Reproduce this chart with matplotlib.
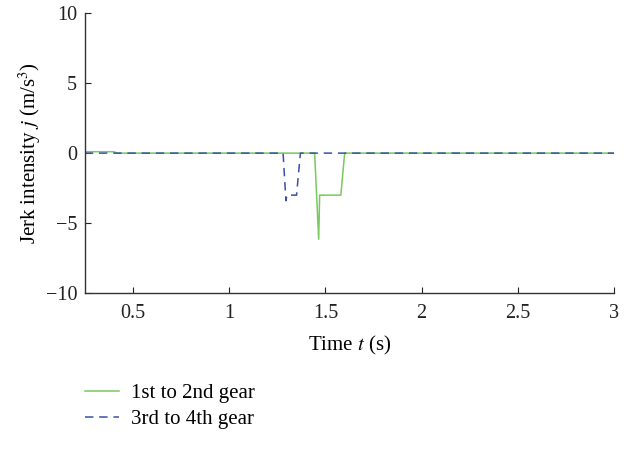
import matplotlib
matplotlib.use('Agg')
import matplotlib.pyplot as plt

plt.rcParams['font.family'] = ['Liberation Serif', 'DejaVu Serif']
plt.rcParams['mathtext.fontset'] = 'stix'

# jerk curves
green_t = [0.25, 0.40, 0.42, 1.444, 1.465, 1.47, 1.58, 1.60, 3.0]
green_j = [0.1, 0.1, 0.0, 0.0, -6.15, -3.0, -3.0, 0.0, 0.0]

blue_t = [0.25, 1.28, 1.295, 1.30, 1.35, 1.37, 3.0]
blue_j = [0.0, 0.0, -3.4, -3.0, -3.0, 0.0, 0.0]

x_ticks = [0.5, 1, 1.5, 2, 2.5, 3]
x_labels = ['0.5', '1', '1.5', '2', '2.5', '3']
y_ticks = [-10, -5, 0, 5, 10]
y_labels = ['\u221210', '\u22125', '0', '5', '10']

fig = plt.figure(figsize=(6.28, 4.51), dpi=100)
ax = fig.add_axes([0.135, 0.350, 0.843, 0.621])

ax.plot(green_t, green_j, color='#79c95c', lw=1.1, label='1st to 2nd gear')
ax.plot(blue_t, blue_j, color='#3a50a8', lw=1.1, ls=(0, (5.5, 3.8)),
        label='3rd to 4th gear')

ax.set_xlim(0.25, 3)
ax.set_ylim(-10, 10)
ax.set_xticks(x_ticks)
ax.set_xticklabels(x_labels)
ax.set_yticks(y_ticks)
ax.set_yticklabels(y_labels)
ax.tick_params(direction='in', length=4, width=0.8, labelsize=14.5,
               colors='#222222')
ax.tick_params(axis='x', pad=7.5)
ax.tick_params(axis='y', pad=5.5)
ax.spines['top'].set_visible(False)
ax.spines['right'].set_visible(False)
for s in ['left', 'bottom']:
    ax.spines[s].set_linewidth(1.0)
    ax.spines[s].set_color('#333333')

ax.set_xlabel('Time $t$ (s)', fontsize=15, labelpad=8)
ax.set_ylabel('Jerk intensity $j$ (m/s$^3$)', fontsize=15, labelpad=1.8)

fig.legend(loc='upper left', bbox_to_anchor=(0.135, 0.150), frameon=False,
           fontsize=15, handlelength=1.65, handletextpad=0.55,
           labelspacing=0.32, borderpad=0, borderaxespad=0)

fig.savefig('out.png', dpi=100)
